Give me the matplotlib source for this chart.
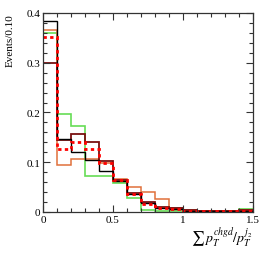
import numpy as np
import matplotlib
matplotlib.use("Agg")
import matplotlib.pyplot as plt
from matplotlib.ticker import MultipleLocator

plt.rcParams['font.family'] = ['Liberation Serif', 'DejaVu Serif']
plt.rcParams['mathtext.fontset'] = 'stix'

# bin edges of the ratio, 15 bins of 0.1
edges = np.round(np.arange(0, 1.51, 0.1), 2)

# normalised event fractions per bin
black_vals = [0.384, 0.147, 0.121, 0.105, 0.082, 0.062, 0.037, 0.019, 0.009, 0.006,
              0.003, 0.002, 0.002, 0.002, 0.003]
maroon_vals = [0.300, 0.145, 0.157, 0.140, 0.102, 0.065, 0.038, 0.020, 0.010, 0.008,
               0.004, 0.003, 0.002, 0.002, 0.004]
orange_vals = [0.366, 0.094, 0.107, 0.107, 0.098, 0.066, 0.051, 0.041, 0.026, 0.009,
               0.005, 0.003, 0.002, 0.002, 0.004]
green_vals = [0.360, 0.197, 0.173, 0.073, 0.072, 0.058, 0.029, 0.005, 0.003, 0.003,
              0.002, 0.002, 0.002, 0.002, 0.007]
red_vals = [0.351, 0.126, 0.141, 0.126, 0.098, 0.065, 0.036, 0.016, 0.008, 0.006,
            0.003, 0.002, 0.002, 0.002, 0.003]

fig = plt.figure(figsize=(2.66, 2.55), dpi=100)
ax = fig.add_axes([43 / 266, 1 - 213 / 255, 210 / 266, 199 / 255])

# baseline=None -> no outer edges at x=0 / x=1.5
ax.stairs(green_vals, edges, color='#66dd55', linewidth=1.2, baseline=None)
ax.stairs(orange_vals, edges, color='#e0703a', linewidth=1.1, baseline=None)
ax.stairs(maroon_vals, edges, color='#7a1010', linewidth=1.3, baseline=None)
ax.stairs(black_vals, edges, color='black', linewidth=1.0, baseline=None)
ax.stairs(red_vals, edges, color='red', linewidth=2.0, linestyle=(0, (1.2, 1.2)),
          baseline=None)

ax.set_xlim(0, 1.5)
ax.set_ylim(0, 0.4)
ax.xaxis.set_major_locator(MultipleLocator(0.5))
ax.xaxis.set_minor_locator(MultipleLocator(0.1))
ax.yaxis.set_major_locator(MultipleLocator(0.1))
ax.yaxis.set_minor_locator(MultipleLocator(0.02))
ax.xaxis.set_major_formatter(plt.FuncFormatter(lambda v, p: f"{v:g}"))
ax.yaxis.set_major_formatter(plt.FuncFormatter(lambda v, p: f"{v:g}"))
ax.tick_params(which='both', direction='in', top=True, right=True,
               labelsize=8, colors='#333333', labelcolor='black', pad=2)
ax.tick_params(which='major', length=5, width=0.8)
ax.tick_params(which='minor', length=3, width=0.8)
for sp in ax.spines.values():
    sp.set_color('#333333')
    sp.set_linewidth(0.9)

fig.text(10 / 266, 1 - 14 / 255, "Events/0.10", rotation=90, ha='center', va='top',
         fontsize=8)
fig.text(252 / 266, 1 - 238 / 255, r"$\sum\, p_T^{chgd}/p_T^{j_2}$", ha='right',
         va='center', fontsize=10)

fig.savefig("out.png", dpi=100)
